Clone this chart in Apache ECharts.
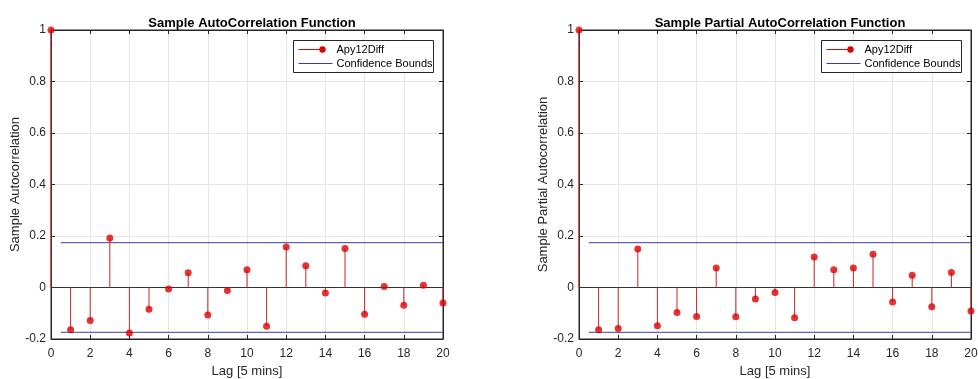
<!DOCTYPE html>
<html><head><meta charset="utf-8">
<script src="https://cdn.jsdelivr.net/npm/echarts@6/dist/echarts.min.js"></script>
<style>html,body{margin:0;padding:0;background:#fff}#c{width:978px;height:379px}</style>
</head><body><div id="c"></div>
<script>
var lags = [0,1,2,3,4,5,6,7,8,9,10,11,12,13,14,15,16,17,18,19,20];
var acfValues = [1,-0.164,-0.128,0.192,-0.177,-0.084,-0.006,0.057,-0.107,-0.012,0.069,-0.150,0.157,0.084,-0.021,0.151,-0.104,0.004,-0.069,0.009,-0.060];
var pacfValues = [1,-0.164,-0.159,0.150,-0.149,-0.097,-0.113,0.076,-0.114,-0.045,-0.019,-0.117,0.118,0.069,0.076,0.129,-0.056,0.048,-0.075,0.058,-0.091];
var confBound = 0.174;
var boundStart = 0.5, boundEnd = 20;
var xTicks = [0,20,2];
var yTicks = [-0.2,1,0.2];
var titles = ['Sample AutoCorrelation Function','Sample Partial AutoCorrelation Function'];
var yLabels = ['Sample Autocorrelation','Sample Partial Autocorrelation'];
var xLabel = 'Lag [5 mins]';
var seriesName = 'Apy12Diff';
var boundName = 'Confidence Bounds';

var FONT = 'Liberation Sans';
var TXT = '#262626';
var chart = echarts.init(document.getElementById('c'), null, {renderer:'canvas'});
var grids = [{left:51,right:535,top:30,bottom:40},{left:579,right:7,top:30,bottom:40}];
var option = {animation:false, textStyle:{fontFamily:FONT}, grid:[], xAxis:[], yAxis:[], series:[], title:[], graphic:[]};
[acfValues, pacfValues].forEach(function(vals, i){
  var g = grids[i];
  option.grid.push({left:g.left,right:g.right,top:g.top,bottom:g.bottom,containLabel:false,outerBoundsMode:'none',show:true,borderColor:'#262626',borderWidth:1,backgroundColor:'#fff'});
  var axBase = {type:'value',min:xTicks[0],max:xTicks[1],interval:xTicks[2],gridIndex:i};
  option.xAxis.push(Object.assign({}, axBase, {position:'bottom',
    axisLine:{show:true,onZero:false,lineStyle:{color:'#262626'}},
    axisTick:{show:true,inside:true,length:4,lineStyle:{color:'#262626'}},
    axisLabel:{color:TXT,fontSize:12,fontFamily:FONT,margin:9},
    splitLine:{show:true,lineStyle:{color:'#e6e6e6'}},
    name:xLabel,nameLocation:'middle',nameGap:25,nameTextStyle:{color:TXT,fontSize:13,fontFamily:FONT}}));
  option.xAxis.push(Object.assign({}, axBase, {position:'top',
    axisLine:{show:true,onZero:false,lineStyle:{color:'#262626'}},
    axisTick:{show:true,inside:true,length:4,lineStyle:{color:'#262626'}},
    axisLabel:{show:false},splitLine:{show:false}}));
  var yBase = {type:'value',min:yTicks[0],max:yTicks[1],interval:yTicks[2],gridIndex:i};
  option.yAxis.push(Object.assign({}, yBase, {position:'left',
    axisLine:{show:true,onZero:false,lineStyle:{color:'#262626'}},
    axisTick:{show:true,inside:true,length:4,lineStyle:{color:'#262626'}},
    axisLabel:{color:TXT,fontSize:12,fontFamily:FONT,margin:5,formatter:function(v){return String(Math.round(v*10)/10);}},
    splitLine:{show:true,lineStyle:{color:'#e6e6e6'}},
    name:yLabels[i],nameLocation:'middle',nameGap:29,nameTextStyle:{color:TXT,fontSize:13,fontFamily:FONT}}));
  option.yAxis.push(Object.assign({}, yBase, {position:'right',
    axisLine:{show:true,onZero:false,lineStyle:{color:'#262626'}},
    axisTick:{show:true,inside:true,length:4,lineStyle:{color:'#262626'}},
    axisLabel:{show:false},splitLine:{show:false}}));
  var xi = i*2, yi = i*2;
  var data = lags.map(function(l,k){return [l, vals[k]];});
  option.series.push({type:'line',xAxisIndex:xi,yAxisIndex:yi,data:[[xTicks[0],0],[xTicks[1],0]],symbol:'none',lineStyle:{color:'#333',width:1},silent:true,z:2});
  option.series.push({type:'line',name:boundName,xAxisIndex:xi,yAxisIndex:yi,data:[[boundStart,confBound],[boundEnd,confBound]],symbol:'none',lineStyle:{color:'#3b3ba6',width:1},z:3});
  option.series.push({type:'line',name:boundName,xAxisIndex:xi,yAxisIndex:yi,data:[[boundStart,-confBound],[boundEnd,-confBound]],symbol:'none',lineStyle:{color:'#3b3ba6',width:1},z:3});
  option.series.push({type:'custom',name:seriesName,xAxisIndex:xi,yAxisIndex:yi,data:data,z:4,
    renderItem:function(params, api){
      var p0 = api.coord([api.value(0),0]);
      var p1 = api.coord([api.value(0),api.value(1)]);
      return {type:'line',shape:{x1:p0[0],y1:p0[1],x2:p1[0],y2:p1[1]},style:{stroke:'#c42828',lineWidth:1}};
    }});
  option.series.push({type:'scatter',name:seriesName,xAxisIndex:xi,yAxisIndex:yi,data:data,symbol:'circle',symbolSize:7,itemStyle:{color:'#e00000'},z:5});
  var cx = g.left + ((i===0?443:971) - g.left)/2;
  option.title.push({text:titles[i],left:cx,top:12,textAlign:'center',textStyle:{fontFamily:FONT,fontSize:13,fontWeight:'bold',color:'#000'}});
  var lx = i===0 ? 293 : 821;
  option.graphic.push({type:'group',left:lx,top:40,z:100,children:[
    {type:'rect',z:100,shape:{x:0,y:0,width:140,height:32},style:{fill:'#fff',stroke:'#262626',lineWidth:1}},
    {type:'line',z:101,shape:{x1:5,y1:9,x2:29,y2:9},style:{stroke:'#e00000',lineWidth:1}},
    {type:'circle',z:102,shape:{cx:29,cy:9,r:3.2},style:{fill:'#e00000',stroke:null}},
    {type:'text',z:101,x:43,y:9,style:{text:seriesName,fill:'#000',font:'11px "Liberation Sans"',textVerticalAlign:'middle'}},
    {type:'line',z:101,shape:{x1:5,y1:23,x2:39,y2:23},style:{stroke:'#3b3ba6',lineWidth:1}},
    {type:'text',z:101,x:43,y:23,style:{text:boundName,fill:'#000',font:'11px "Liberation Sans"',textVerticalAlign:'middle'}}
  ]});
});
chart.setOption(option);
</script></body></html>
